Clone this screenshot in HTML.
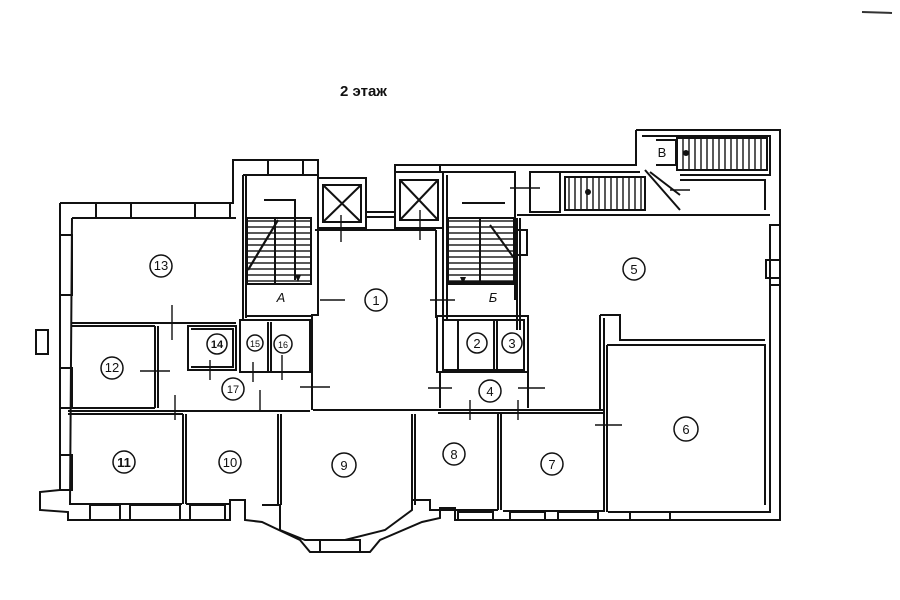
<!DOCTYPE html>
<html><head><meta charset="utf-8"><style>
html,body{margin:0;padding:0;background:#fff;}
svg{display:block}
text{font-family:"Liberation Sans",sans-serif;fill:#111}
</style></head><body>
<svg width="900" height="600" viewBox="0 0 900 600" xmlns="http://www.w3.org/2000/svg">
<defs>
<pattern id="st" width="6" height="6" patternUnits="userSpaceOnUse"><rect width="6" height="6" fill="#fff"/><line x1="0" y1="5" x2="6" y2="5" stroke="#111" stroke-width="1.4"/></pattern>
<pattern id="sv" width="6" height="6" patternUnits="userSpaceOnUse"><rect width="6" height="6" fill="#fff"/><line x1="5" y1="0" x2="5" y2="6" stroke="#111" stroke-width="1.4"/></pattern>
</defs>
<rect width="900" height="600" fill="#fff"/>
<line x1="862" y1="12" x2="892" y2="13" stroke="#333" stroke-width="2"/>
<text x="340" y="96" font-size="15" font-weight="bold">2 этаж</text>
<g fill="none" stroke="#111" stroke-width="2">
<path d="M60 203 L233 203 L233 160 L318 160 L318 175"/>
<path d="M72 218 L236 218"/>
<path d="M60 203 L60 490 L40 492 L40 510 L68 512 L68 520 L230 520 L230 500 L245 500 L245 520 L262 522 L300 540 L310 552 L370 552 L380 540 L422 522 L440 518 L440 508 L455 508 L455 520 L780 520 L780 210"/>
<path d="M72 218 L70 504 L182 504 M186 504 L230 504 M262 505 L280 505 L280 530 L305 540 L345 540 L385 530 L412 510 L412 500 L430 500 L430 510 L498 510 M503 511 L605 511 M608 512 L770 512 L770 225"/>
<rect x="96" y="203" width="35" height="15"/><rect x="195" y="203" width="35" height="15"/>
<rect x="268" y="160" width="35" height="15"/><rect x="90" y="505" width="30" height="15"/>
<rect x="130" y="505" width="50" height="15"/><rect x="190" y="505" width="35" height="15"/>
<rect x="320" y="540" width="40" height="12"/><rect x="458" y="512" width="35" height="8"/>
<rect x="510" y="512" width="35" height="8"/><rect x="558" y="512" width="40" height="8"/>
<rect x="630" y="512" width="40" height="8"/>
<rect x="60" y="235" width="12" height="60"/><rect x="60" y="368" width="12" height="40"/><rect x="60" y="455" width="12" height="35"/>
<rect x="770" y="225" width="10" height="60"/><rect x="766" y="260" width="14" height="18"/>
<rect x="36" y="330" width="12" height="24"/>
<path d="M72 323 L236 323 M72 326 L155 326 M72 408 L155 408 M68 411 L310 411 M68 414 L183 414"/>
<path d="M155 326 L155 408 M158 326 L158 408 M183 414 L183 504 M186 414 L186 504 M278 414 L278 505 M281 414 L281 505"/>
<path d="M188 326 L236 326 L236 370 L188 370 Z M191 329 L233 329 L233 367 L191 367"/>
<path d="M240 320 L310 320 L310 372 L240 372 Z M268 322 L268 372 M271 322 L271 372"/>
<path d="M243 175 L243 320 M246 175 L246 318 M243 175 L318 175 L318 315 L312 315 L312 410"/>
<rect x="247" y="218" width="64" height="66" fill="url(#st)"/>
<path d="M264 200 L295 200 L295 280 M275 218 L275 284"/>
<path d="M248 270 L278 220" stroke-width="2.2"/>
<path d="M245 284 L312 284 M245 316 L312 316"/>
<rect x="318" y="178" width="48" height="50"/><rect x="323" y="185" width="38" height="37"/>
<path d="M323 185 L361 222 M361 185 L323 222"/>
<rect x="395" y="172" width="48" height="56"/><rect x="400" y="180" width="38" height="40"/>
<path d="M400 180 L438 220 M438 180 L400 220"/>
<path d="M366 212 L395 212 M366 217 L395 217"/>
<path d="M315 230 L436 230 M313 410 L438 410 M436 230 L436 318"/>
<path d="M443 172 L515 172 L515 300 M447 175 L447 320 M443 172 L443 320 M395 172 L395 165 L440 165 L440 172 M440 165 L545 165"/>
<rect x="448" y="218" width="66" height="64" fill="url(#st)"/>
<path d="M462 203 L505 203 M480 218 L480 282 M490 225 L514 258"/>
<path d="M448 284 L515 284 M448 316 L515 316 M515 230 L527 230 L527 255 L518 255"/>
<rect x="437" y="316" width="91" height="56"/><rect x="443" y="320" width="81" height="50"/>
<path d="M458 320 L458 370 M494 320 L494 370 M497 320 L497 370"/>
<path d="M440 372 L528 372 L528 408 M440 372 L440 408"/>
<path d="M438 410 L605 410 M438 413 L605 413"/>
<path d="M517 215 L770 215 M517 218 L517 330 M520 218 L520 330"/>
<path d="M600 315 L620 315 L620 340 L765 340 M600 315 L600 410 M604 318 L604 512 M607 345 L765 345 L765 505 M607 345 L607 512"/>
<path d="M412 414 L412 505 M415 414 L415 505 M498 414 L498 510 M501 414 L501 510"/>
<path d="M636 130 L780 130 L780 210 M642 136 L770 136 L770 175 L680 175 M636 130 L636 165 L545 165 M530 172 L640 172 M530 215 L680 215"/>
<rect x="677" y="138" width="90" height="32" fill="url(#sv)"/>
<rect x="565" y="177" width="80" height="33" fill="url(#sv)"/>
<rect x="530" y="172" width="30" height="40"/>
<path d="M645 170 L680 210 M650 172 L680 195 M680 180 L765 180 L765 210"/>
<path d="M656 140 L676 140 L676 165 L656 165"/>
</g>
<g stroke="#111" stroke-width="1.4">
<path d="M172 305 L172 340 M140 371 L170 371 M320 300 L345 300 M300 387 L330 387 M260 390 L260 410 M175 395 L175 420 M282 355 L282 380 M210 360 L210 380 M253 362 L253 382"/>
<path d="M341 215 L341 242 M420 210 L420 240 M430 300 L455 300 M428 388 L452 388 M518 388 L545 388 M470 400 L470 420 M518 400 L518 420 M595 425 L622 425 M510 188 L540 188 M670 190 L690 190"/>
</g>
<path d="M295 275 L301 275 L298 282 Z M460 277 L466 277 L463 284 Z" fill="#111"/>
<circle cx="588" cy="192" r="3" fill="#111"/><circle cx="686" cy="153" r="3" fill="#111"/>
<g fill="none" stroke="#111" stroke-width="1.5">
<circle cx="161" cy="266" r="11"/><circle cx="112" cy="368" r="11"/><circle cx="233" cy="389" r="11"/>
<circle cx="217" cy="344" r="10"/><circle cx="255" cy="343" r="8"/><circle cx="283" cy="344" r="9"/>
<circle cx="376" cy="300" r="11"/><circle cx="477" cy="343" r="10"/><circle cx="512" cy="343" r="10"/>
<circle cx="490" cy="391" r="11"/><circle cx="634" cy="269" r="11"/><circle cx="686" cy="429" r="12"/>
<circle cx="552" cy="464" r="11"/><circle cx="454" cy="454" r="11"/><circle cx="344" cy="465" r="12"/>
<circle cx="230" cy="462" r="11"/><circle cx="124" cy="462" r="11"/>
</g>
<g font-size="13" text-anchor="middle">
<text x="161" y="270">13</text><text x="112" y="372">12</text><text x="233" y="393" font-size="11">17</text>
<text x="217" y="348" font-size="11" font-weight="bold">14</text><text x="255" y="347" font-size="9">15</text><text x="283" y="348" font-size="9">16</text>
<text x="376" y="305">1</text><text x="477" y="348">2</text><text x="512" y="348">3</text><text x="490" y="396">4</text>
<text x="634" y="274">5</text><text x="686" y="434">6</text><text x="552" y="469">7</text><text x="454" y="459">8</text>
<text x="344" y="470">9</text><text x="230" y="467">10</text><text x="124" y="467" font-weight="bold">11</text>
<text x="281" y="302" font-style="italic">А</text><text x="493" y="302" font-style="italic">Б</text><text x="662" y="157">В</text>
</g>
</svg>
</body></html>
